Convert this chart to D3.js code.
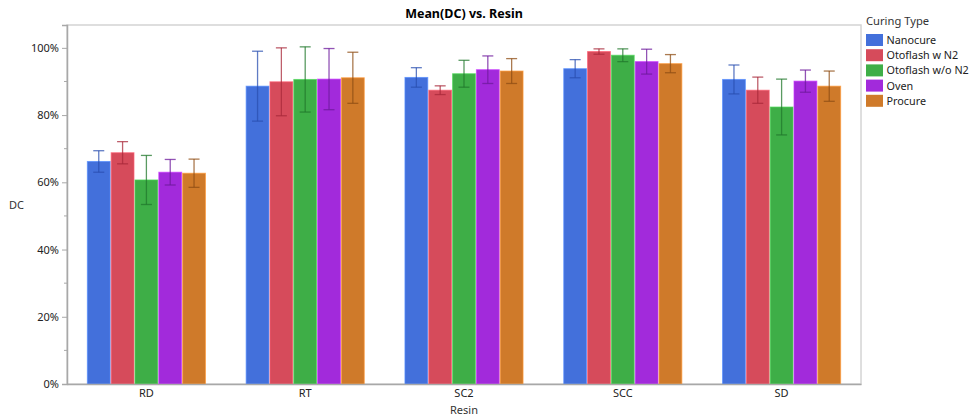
<!DOCTYPE html>
<html>
<head>
<meta charset="utf-8">
<script src="https://cdn.jsdelivr.net/npm/d3@7"></script>
<style>
  body { margin: 0; background: #fff; }
  svg { display: block; font-family: "Noto Sans", "Open Sans", sans-serif; }
</style>
</head>
<body>
<svg id="chart" width="972" height="415"></svg>
<script>
// Resin groups and curing types
const resins = ["RD", "RT", "SC2", "SCC", "SD"];
const curingTypes = ["Nanocure", "Otoflash w N2", "Otoflash w/o N2", "Oven", "Procure"];
const colors = ["#4370DB", "#D64B5B", "#3EAE47", "#A22ADB", "#CF7A2A"];
const errColors = ["#2A4FB0", "#A8283A", "#22782C", "#6E1A9C", "#8F4E14"];

// Mean DC per resin (rows) for each curing type (columns)
const meanDC = [
  [0.662, 0.688, 0.607, 0.630, 0.627],
  [0.886, 0.899, 0.906, 0.907, 0.911],
  [0.912, 0.874, 0.923, 0.935, 0.931],
  [0.938, 0.989, 0.978, 0.959, 0.953],
  [0.906, 0.874, 0.824, 0.901, 0.886]
];
// Error bar half-widths
const errDC = [
  [0.032, 0.033, 0.073, 0.038, 0.042],
  [0.104, 0.101, 0.097, 0.091, 0.076],
  [0.029, 0.013, 0.040, 0.041, 0.037],
  [0.027, 0.008, 0.019, 0.037, 0.027],
  [0.043, 0.039, 0.083, 0.033, 0.045]
];
const yTicks = [0, 0.2, 0.4, 0.6, 0.8, 1.0];
const yMinorTicks = [0.1, 0.3, 0.5, 0.7, 0.9];

const svg = d3.select("#chart");
const plotL = 67, plotR = 861, plotT = 25, plotB = 384;

const x0 = d3.scaleBand().domain(resins).range([plotL, plotR])
  .paddingInner(0.25).paddingOuter(0.125);
const x1 = d3.scaleBand().domain(curingTypes).range([0, x0.bandwidth()]);
const y = d3.scaleLinear().domain([0, 1.068]).range([plotB, plotT]);

// Plot frame
svg.append("rect")
  .attr("x", plotL).attr("y", plotT)
  .attr("width", plotR - plotL).attr("height", plotB - plotT)
  .attr("fill", "none").attr("stroke", "#d4d4d4").attr("stroke-width", 1.5);

// Bars
const groups = svg.append("g").selectAll("g")
  .data(resins).join("g")
  .attr("transform", d => `translate(${x0(d)},0)`);

groups.each(function(r, ri) {
  const g = d3.select(this);
  curingTypes.forEach((c, ci) => {
    const v = meanDC[ri][ci];
    g.append("rect")
      .attr("x", x1(c) + 0.5)
      .attr("y", y(v))
      .attr("width", x1.bandwidth() - 1)
      .attr("height", y(0) - y(v))
      .attr("fill", colors[ci])
      .attr("stroke", d3.color(colors[ci]).brighter(0.6))
      .attr("stroke-opacity", 0.7)
      .attr("stroke-width", 1);
  });
});

// Error bars
groups.each(function(r, ri) {
  const g = d3.select(this);
  curingTypes.forEach((c, ci) => {
    const v = meanDC[ri][ci], e = errDC[ri][ci];
    const cx = x1(c) + x1.bandwidth() / 2;
    const eg = g.append("g")
      .attr("stroke", errColors[ci]).attr("stroke-width", 1.3)
      .attr("stroke-opacity", 0.75);
    eg.append("line").attr("x1", cx).attr("x2", cx)
      .attr("y1", y(v + e)).attr("y2", y(v - e));
    [v + e, v - e].forEach(t => {
      eg.append("line").attr("x1", cx - 5.5).attr("x2", cx + 5.5)
        .attr("y1", y(t)).attr("y2", y(t));
    });
  });
});

// Y axis
const yAxis = d3.axisLeft(y).tickValues(yTicks).tickFormat(d3.format(".0%"))
  .tickSize(5).tickPadding(3);
const ya = svg.append("g").attr("transform", `translate(${plotL},0)`).call(yAxis);
ya.select(".domain").attr("stroke", "#a8a8a8").attr("stroke-width", 1.5);
ya.selectAll(".tick line").attr("stroke", "#a8a8a8");
ya.selectAll(".tick text").attr("font-size", 11).attr("fill", "#222")
  .attr("font-family", "Noto Sans, sans-serif");
svg.append("g").selectAll("line").data(yMinorTicks).join("line")
  .attr("x1", plotL - 3).attr("x2", plotL)
  .attr("y1", d => y(d)).attr("y2", d => y(d))
  .attr("stroke", "#a8a8a8");

// X axis
const xAxis = d3.axisBottom(x0).tickSize(0).tickPadding(5);
const xa = svg.append("g").attr("transform", `translate(0,${plotB})`).call(xAxis);
xa.select(".domain").attr("stroke", "#a8a8a8").attr("stroke-width", 1.5);
xa.selectAll(".tick text").attr("font-size", 11).attr("fill", "#222")
  .attr("font-family", "Noto Sans, sans-serif");

// Axis titles
svg.append("text").attr("x", 464).attr("y", 413.5).attr("text-anchor", "middle")
  .attr("font-size", 11).attr("fill", "#333").text("Resin");
svg.append("text").attr("x", 9).attr("y", 208.5)
  .attr("font-size", 11).attr("fill", "#333").text("DC");

// Title
svg.append("text").attr("x", 464).attr("y", 18).attr("text-anchor", "middle")
  .attr("font-size", 12.5).attr("font-weight", "bold").attr("fill", "#000")
  .text("Mean(DC) vs. Resin");

// Legend
const lg = svg.append("g").attr("transform", "translate(866,0)");
lg.append("text").attr("x", 0).attr("y", 25).attr("font-size", 11.2)
  .attr("fill", "#333").text("Curing Type");
curingTypes.forEach((c, i) => {
  const cy = 40 + i * 15.2;
  lg.append("rect").attr("x", 0).attr("y", cy - 6).attr("width", 17).attr("height", 12)
    .attr("fill", colors[i]);
  lg.append("text").attr("x", 20.5).attr("y", cy + 4).attr("font-size", 10.8)
    .attr("fill", "#222").text(c);
});
</script>
</body>
</html>
